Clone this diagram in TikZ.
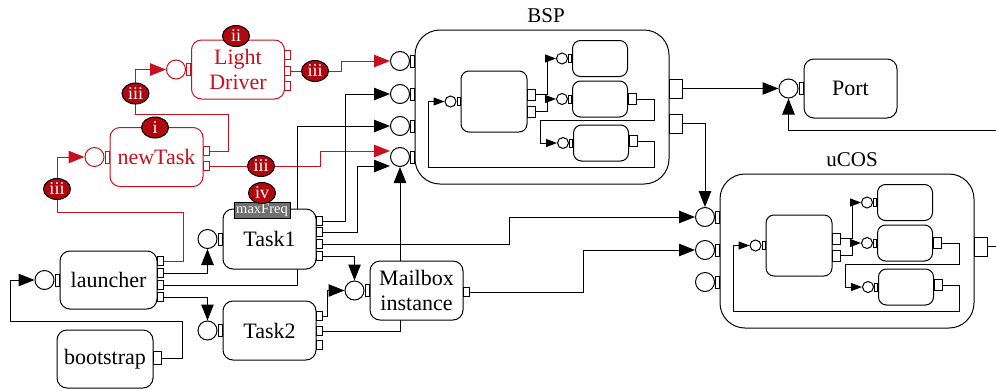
\documentclass[tikz,border=0pt]{standalone}
\usepackage{fontspec}
\setmainfont{Liberation Serif}
\usetikzlibrary{arrows.meta,positioning,shapes.geometric}
\definecolor{drvred}{RGB}{200,16,30}
\definecolor{badgered}{RGB}{175,8,14}
\definecolor{tagfill}{RGB}{112,112,112}
\pgfdeclarelayer{bg}
\pgfsetlayers{bg,main}
\tikzset{
  comp/.style={draw, rounded corners=10pt, fill=white, align=center, inner sep=0pt,
    minimum width=93pt, minimum height=59pt, font=\fontsize{22}{24.5}\selectfont},
  redcomp/.style={comp, draw=drvred, text=drvred},
  group/.style={draw, rounded corners=25pt, fill=white, minimum width=254pt, minimum height=154pt},
  grouptitle/.style={anchor=base, font=\fontsize{21}{23}\selectfont},
  inbox/.style={draw, rounded corners=8pt, fill=white, inner sep=0pt, minimum width=55pt, minimum height=36pt},
  sock/.style={circle, draw, fill=white, minimum size=19pt, inner sep=0pt},
  insock/.style={circle, draw, fill=white, minimum size=11pt, inner sep=0pt},
  stub/.style={draw, fill=white, minimum width=6pt, minimum height=9.5pt, inner sep=0pt},
  redstub/.style={stub, draw=drvred},
  sockstub/.style={draw, fill=white, minimum width=4pt, minimum height=12pt, inner sep=0pt},
  insockstub/.style={draw, fill=white, minimum width=3pt, minimum height=8pt, inner sep=0pt},
  instub/.style={draw, fill=white, minimum width=8pt, minimum height=11pt, inner sep=0pt},
  bigstub/.style={draw, fill=white, minimum width=13pt, minimum height=19pt, inner sep=0pt},
  tag/.style={draw, fill=tagfill, text=white, minimum width=56pt, minimum height=16pt, inner sep=0pt,
    font=\fontsize{14.5}{14.5}\selectfont},
  badge/.style={ellipse, draw, fill=badgered, text=white, minimum width=27pt, minimum height=21pt,
    inner sep=0pt, font=\fontsize{18}{18}\selectfont},
  wire/.style={line width=1pt},
  feed/.style={wire, -{Triangle[length=16pt,width=12.5pt]}},
  infeed/.style={wire, -{Triangle[length=11pt,width=8pt]}},
  redwire/.style={wire, draw=drvred},
  redfeed/.style={feed, draw=drvred},
}
\begin{document}
\begin{tikzpicture}[x=1pt, y=-1pt, line width=1pt]
\useasboundingbox (0,0) rectangle (996,389);

% the two groups and what is inside them
\node[group] (bsp) at (542,107) {};
\node[grouptitle] (bsptitle) at ([xshift=4pt,yshift=7pt]bsp.north) {BSP};
\node[group] (ucos) at (847,251) {};
\node[grouptitle] (ucostitle) at ([xshift=5pt,yshift=7pt]ucos.north) {uCOS};

\foreach \p/\ox/\oy in {bsp/415/30, ucos/720/174}{
  \begin{scope}[shift={(\ox,\oy)}]
    \node[inbox, minimum width=66pt, minimum height=61pt] (\p-main) at (79,71.5) {};
    \node[inbox] (\p-s1) at (185,28.5) {};
    \node[inbox] (\p-s2) at (185,69) {};
    \node[inbox] (\p-s3) at (186,113) {};
    \foreach \s in {main,s1,s2,s3}{
      \node[insockstub, anchor=east] (\p-\s-st) at (\p-\s.west) {};
      \node[insock, left=0pt of \p-\s-st] (\p-\s-sock) {};
    }
    \node[instub, anchor=west] (\p-m1) at (112,64.5) {};
    \node[instub, anchor=west] (\p-m2) at (112,81.5) {};
    \node[instub, anchor=west] (\p-s2out) at (\p-s2.east) {};
    \node[instub, anchor=west] (\p-s3out) at ([yshift=2pt]\p-s3.east) {};
    \draw[infeed] (\p-m1.east) -- ++(11,0) |- (\p-s1-sock.west);
    \draw[infeed] (\p-m2.east) -- ++(11,0) |- (\p-s2-sock.west);
    \draw[infeed] (\p-s2out.east) -| (239,90) -- (125,90) |- (\p-s3-sock.west);
    \draw[infeed] (\p-s3out.east) -| (239,137) -- (13,137) |- (\p-main-sock.west);
  \end{scope}
}

% group ports
\foreach \i/\yy in {1/61,2/94,3/126,4/157}{
  \node[sockstub, anchor=east] (binst\i) at (415,\yy) {};
  \node[sock, left=0pt of binst\i] (bin\i) {};
}
\foreach \i/\yy in {1/217,2/250,3/282}{
  \node[sockstub, anchor=east] (uinst\i) at (720,\yy) {};
  \node[sock, left=0pt of uinst\i] (uin\i) {};
}
\node[bigstub, anchor=west] (bspo1) at (669,88.5) {};
\node[bigstub, anchor=west] (bspo2) at (669,123.5) {};
\node[bigstub, anchor=west] (ucoso) at (974,246.5) {};

% components
\node[redcomp] (ld) at (238,69.5) {Light\\Driver};
\node[redcomp] (nt) at (156.5,157) {newTask};
\node[comp, minimum width=97pt, minimum height=58pt] (la) at (108.5,280) {launcher};
\node[comp, minimum width=96pt, minimum height=58pt] (bs) at (105,359) {bootstrap};
\node[comp, minimum height=60pt] (t1) at (269.5,239) {Task1};
\node[comp] (t2) at (269.5,330.5) {Task2};
\node[comp] (mb) at (416.5,290.5) {Mailbox\\instance};
\node[comp] (port) at (850.5,88.5) {Port};

\foreach \n in {ld,nt}{
  \node[sockstub, draw=drvred, anchor=east] (\n st) at (\n.west) {};
  \node[sock, draw=drvred, left=0pt of \n st] (\n sock) {};
}
\foreach \n in {la,t1,t2,mb,port}{
  \node[sockstub, anchor=east] (\n st) at (\n.west) {};
  \node[sock, left=0pt of \n st] (\n sock) {};
}

\foreach \i/\yy in {1/55,2/71,3/86} \node[redstub, anchor=west] (ldp\i) at (284,\yy) {};
\foreach \i/\yy in {1/151,2/166} \node[redstub, anchor=west] (ntp\i) at (203,\yy) {};
\foreach \i/\yy in {1/261,2/273,3/285,4/297} \node[stub, anchor=west] (lap\i) at (157,\yy) {};
\foreach \i/\yy in {1/221,2/232,3/244,4/256} \node[stub, anchor=west] (t1p\i) at (316,\yy) {};
\foreach \i/\yy in {1/316,2/331,3/345} \node[stub, anchor=west] (t2p\i) at (316,\yy) {};
\node[stub, anchor=west] (mbout) at (463,292) {};
\node[stub, anchor=west, minimum width=8pt, minimum height=13pt] (bsout) at (153,358) {};

% labels
\node[tag] (maxfreq) at (262,210) {maxFreq};
\node[badge] (badgeI) at (155,127.5) {i};
\node[badge] (badgeII) at (236,36) {ii};
\node[badge] (badgeA) at (57,189) {iii};
\node[badge] (badgeB) at (135.5,93.5) {iii};
\node[badge] (badgeC) at (315,71) {iii};
\node[badge] (badgeD) at (261,166) {iii};
\node[badge] (badgeIV) at (262,193) {iv};

\coordinate (portfeed) at (996,130.5);
\coordinate (ucosend) at (996,246.5);

\begin{pgfonlayer}{bg}
  % red part
  \draw[redwire] (lap1.east) -| (183,212) -| (badgeA.center);
  \draw[redfeed] (badgeA.center) |- (ntsock.west);
  \draw[redwire] (ntp1.east) -| (228,114) -| (badgeB.center);
  \draw[redfeed] (badgeB.center) |- (ldsock.west);
  \draw[redwire] (ldp2.east) -- (badgeC.center);
  \draw[redfeed] (badgeC.center) -- (badgeC.center -| 341,0) |- (bin1.west);
  \draw[redwire] (ntp2.east) -- (badgeD.center);
  \draw[redfeed] (badgeD.center) -- (badgeD.center -| 320,0) |- ([yshift=6pt]bin4.west);
  % black part
  \draw[feed] (bsout.east) -- ++(20,0) |- (10,321) |- (lasock.west);
  \draw[feed] (lap2.east) -| (t1sock.south);
  \draw[feed] (lap3.east) -- (lap3.east -| 297,0) |- (bin3.west);
  \draw[feed] (lap4.east) -| (t2sock.north);
  \draw[feed] (t1p1.east) -- (t1p1.east -| 345,0) |- (bin2.west);
  \draw[feed] (t1p2.east) -- (t1p2.east -| 357,0) |- ([yshift=-9pt]bin4.west);
  \draw[feed] (t1p3.east) -- (t1p3.east -| 509,0) |- (uin1.west);
  \draw[feed] (t1p4.east) -| (mbsock.north);
  \draw[feed] (t2p1.east) -- ++(4,0) |- (mbsock.west);
  \draw[feed] (t2p2.east) -| (bin4.south);
  \draw[feed] (mbout.east) -- (mbout.east -| 583,0) |- (uin2.west);
  \draw[feed] (bspo1.east) -- (portsock.west);
  \draw[feed] (bspo2.east) -| (uin1.north);
  \draw[feed] (portfeed) -| (portsock.south);
  \draw[wire] (ucoso.east) -- (ucosend);
\end{pgfonlayer}
\end{tikzpicture}
\end{document}
